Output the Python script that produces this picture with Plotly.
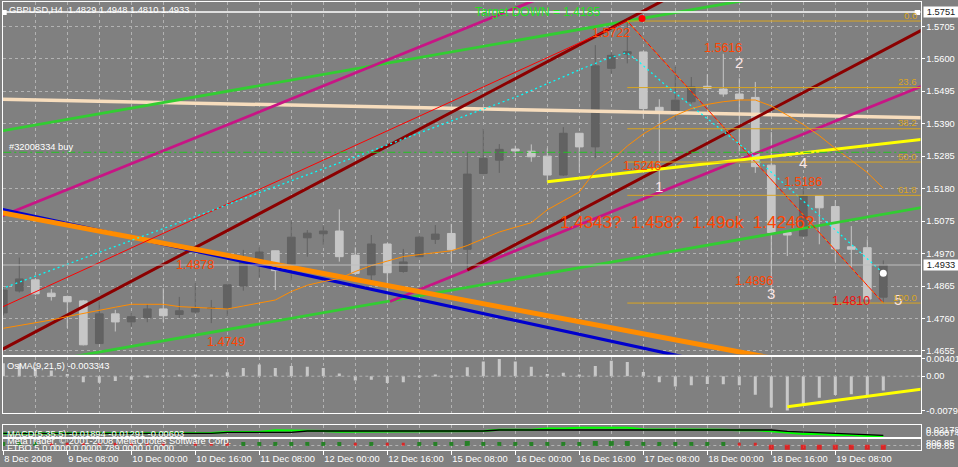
import plotly.graph_objects as go

W, H = 958, 467
FONT = "Liberation Sans, Arial, sans-serif"
BG = "#808080"
GRID = "#B2B2B2"

# ---------------- data ----------------
bars = list(range(56))
time_label_bars = [0, 4, 8, 12, 16, 20, 24, 28, 32, 36, 40, 44, 48, 52]
time_labels = ["8 Dec 2008", "9 Dec 08:00", "10 Dec 00:00", "10 Dec 16:00", "11 Dec 08:00",
               "12 Dec 00:00", "12 Dec 16:00", "15 Dec 08:00", "16 Dec 00:00", "16 Dec 16:00",
               "17 Dec 08:00", "18 Dec 00:00", "18 Dec 16:00", "19 Dec 08:00"]
price_ticks = [1.5705, 1.5600, 1.5495, 1.5390, 1.5285, 1.5180, 1.5075, 1.4970, 1.4865, 1.4760, 1.4655]

opens = [1.4778, 1.4849, 1.4885, 1.4842, 1.4831, 1.4817, 1.4679, 1.4775, 1.4749, 1.4763,
         1.4791, 1.4773, 1.4781, 1.4792, 1.4792, 1.4865, 1.4941, 1.4979, 1.4933, 1.5021,
         1.5034, 1.5043, 1.4965, 1.4901, 1.5001, 1.4912, 1.4960, 1.5016, 1.5035, 1.4984,
         1.5229, 1.5272, 1.5308, 1.5301, 1.5285, 1.5224, 1.5359, 1.5315, 1.5569, 1.5615,
         1.5622, 1.5443, 1.5432, 1.5461, 1.5511, 1.5502, 1.5486, 1.5475, 1.5256, 1.5038,
         1.5027, 1.5157, 1.5122, 1.4992, 1.4989, 1.4829]
highs = [1.4862, 1.4957, 1.4890, 1.4855, 1.4834, 1.4820, 1.4815, 1.4788, 1.4777, 1.4807,
         1.4858, 1.4830, 1.4874, 1.4820, 1.4869, 1.4982, 1.4990, 1.4980, 1.5079, 1.5046,
         1.5062, 1.5113, 1.4990, 1.5030, 1.5004, 1.4985, 1.5027, 1.5062, 1.5066, 1.5299,
         1.5375, 1.5324, 1.5319, 1.5323, 1.5310, 1.5379, 1.5360, 1.5644, 1.5622, 1.5722,
         1.5624, 1.5469, 1.5574, 1.5541, 1.5550, 1.5616, 1.5537, 1.5525, 1.5363, 1.5039,
         1.5186, 1.5159, 1.5143, 1.5059, 1.5016, 1.4948]
lows = [1.4770, 1.4844, 1.4836, 1.4818, 1.4729, 1.4673, 1.4678, 1.4718, 1.4732, 1.4748,
        1.4748, 1.4761, 1.4778, 1.4745, 1.4766, 1.4850, 1.4893, 1.4852, 1.4882, 1.4960,
        1.4998, 1.4944, 1.4901, 1.4869, 1.4815, 1.4908, 1.4959, 1.5001, 1.4943, 1.4917,
        1.5227, 1.5231, 1.5283, 1.5267, 1.5202, 1.5221, 1.5231, 1.5278, 1.5552, 1.5585,
        1.5407, 1.5165, 1.5402, 1.5455, 1.5498, 1.5477, 1.5300, 1.5231, 1.4846, 1.4962,
        1.5024, 1.5000, 1.4944, 1.4923, 1.4823, 1.4810]
closes = [1.4852, 1.4888, 1.4840, 1.4831, 1.4814, 1.4675, 1.4775, 1.4749, 1.4766, 1.4791,
          1.4769, 1.4785, 1.4793, 1.4794, 1.4869, 1.4944, 1.4975, 1.4915, 1.5023, 1.5036,
          1.5043, 1.4960, 1.4906, 1.5001, 1.4908, 1.4943, 1.5023, 1.5033, 1.4982, 1.5227,
          1.5278, 1.5307, 1.5302, 1.5283, 1.5224, 1.5359, 1.5315, 1.5577, 1.5611, 1.5623,
          1.5439, 1.5432, 1.5466, 1.5509, 1.5504, 1.5486, 1.5470, 1.5251, 1.5038, 1.5030,
          1.5156, 1.5118, 1.4985, 1.4984, 1.4823, 1.4933]

ma_orange = [1.47284, 1.47368, 1.47455, 1.47552, 1.47662, 1.47768, 1.47872, 1.47966, 1.48060, 1.48069,
             1.48060, 1.47985, 1.47966, 1.47927, 1.47908, 1.48005, 1.48095, 1.48199, 1.48473, 1.48677,
             1.48797, 1.48894, 1.49120, 1.49311, 1.49457, 1.49602, 1.49667, 1.49732, 1.49790, 1.49961,
             1.50181, 1.50398, 1.50550, 1.50698, 1.51115, 1.51390, 1.51691, 1.52370, 1.52710, 1.53179,
             1.53567, 1.53877, 1.54165, 1.54388, 1.54524, 1.54611, 1.54666, 1.54666, 1.54472, 1.54175,
             1.53874, 1.53515, 1.53098, 1.52719, 1.52318, 1.51811]

# trend lines: (bar index, price) anchor points
beige_x, beige_p = [-1, 58], [1.54699, 1.54087]
green_up_x, green_up_p = [-1, 58], [1.53584, 1.58947]
green_low_x, green_low_p = [-1, 58], [1.45879, 1.51242]
magenta_up_x, magenta_up_p = [-1, 58], [1.50721, 1.63084]
magenta_low_x, magenta_low_p = [24.17, 58], [1.48150, 1.55239]
darkred_up_x, darkred_up_p = [-1, 58], [1.46346, 1.62459]
darkred_low_x, darkred_low_p = [29, 58], [1.49170, 1.57090]
blue_x, blue_p = [-1, 58], [1.51235, 1.44625]
orange_x, orange_p = [-1, 58], [1.51108, 1.45347]
yellow_x, yellow_p = [34, 58], [1.52020, 1.53430]
zigzag_x, zigzag_p = [-1, 39, 55], [1.47750, 1.57220, 1.48100]
cyan_x = [-1, 32.29, 36.23, 37.81, 38.96, 39.67, 41.54, 46.46, 55]
cyan_p = [1.48388, 1.54812, 1.55691, 1.56015, 1.56196, 1.55927, 1.55077, 1.53049, 1.49065]
order_price = 1.52975
alert_price = 1.5751
bid_price = 1.4933
fib_high, fib_low, fib_start = 1.5722, 1.4810, 39
fib_levels = [0.0, 23.6, 38.2, 50.0, 61.8, 100.0]

red_labels = ["1.5722", "1.5616", "1.5246", "1.5186", "1.4896", "1.4878", "1.4749"]
red_label_x = [37.98, 44.95, 39.89, 49.95, 46.92, 11.95, 13.94]
red_label_p = [1.56849, 1.56348, 1.52532, 1.52024, 1.48813, 1.49321, 1.46841]
low_label, low_label_x, low_label_p = "1.4810", 52.95, 1.48166
guess_text, guess_x, guess_p = "1.4343?  1.458?  1.49ok  1.4246?", 34.67, 1.50705
wave_labels = ["1", "2", "3", "4", "5"]
wave_x = [40.95, 45.98, 47.95, 49.95, 55.92]
wave_p = [1.51869, 1.55879, 1.48425, 1.52645, 1.48199]
target_text, target_x, target_p = "Target DOWN = 1.4185", 29.36, 1.57496
fractal_x, fractal_p = [39.92], [1.57302]
dot_x, dot_p = [55], [1.49065]

osma = [0.0030, 0.0029, 0.0020, 0.0013, 0.0005, -0.0014, -0.0015, -0.0011, -0.0008, -0.0001,
        0.0001, 0.0003, 0.0002, 0.0003, 0.0009, 0.0019, 0.0027, 0.0019, 0.0024, 0.0022,
        0.0019, 0.0006, -0.0010, -0.0008, -0.0016, -0.0014, -0.0003, 0.0002, -0.0001, 0.0021,
        0.0034, 0.00401, 0.0034, 0.0022, 0.0005, 0.0008, 0.0003, 0.0024, 0.0036, 0.0033,
        0.0010, -0.0014, -0.0024, -0.0021, -0.0018, -0.0019, -0.0021, -0.0043, -0.0073, -0.00797,
        -0.0069, -0.0050, -0.0044, -0.0042, -0.0047, -0.003343]
osma_ticks = [0.00401, 0.0, -0.00797]
osma_ticktext = ["0.00401", "0.00", "-0.00797"]
osma_trend_x, osma_trend_v = [49, 57.6], [-0.00709, -0.00290]

macd_main = [-0.00633] * 14 + [-0.00242] * 5 + [0.00267] * 12 + [0.00659] * 3 + [0.00933] * 11 + \
            [0.00659] * 4 + [0.00150, -0.00124, -0.00398, -0.00790, -0.00790, -0.01299, -0.01417]
macd_signal = [-0.00712] * 12 + [-0.00516] * 2 + [-0.00124] * 3 + [0.00542] * 3 + [0.00267] + \
              [-0.00007] * 4 + [0.00072] * 3 + [0.00267] * 3 + [0.00777] * 3 + [0.01247] * 2 + \
              [0.01560] * 4 + [0.00933] * 5 + [0.00738] + [0.00542] * 2 + [0.00150] + [-0.00398] + \
              [-0.00908] * 2 + [-0.01299] * 2 + [-0.01691] * 2

signal_state = [1, 1, 1, -1, -1, -1, -1, -1, -1, -1, -1, 0, -1, -1, -1, 1, 1, 1, 1, 1,
                1, 1, -1, 1, -1, -1, 1, 1, 1, 2, 1, 1, 1, 1, 1, 1, 1, 2, 2, 2,
                1, 1, 1, 1, 1, 1, -1, -1, -2, -2, -2, -2, -2, -2, -2, -2]

# ---------------- layout helpers ----------------
X0, X1 = 2.5, 920.5
XR = [(X0 - 3.3) / 16, (X1 - 3.3) / 16]


def ydom(top, bot):
    return [1 - bot / H, 1 - top / H]


def pyp(y):
    return 1 - y / H


panels = {"main": (2, 354.5), "osma": (356.5, 412.7), "empty": (415.3, 423.3),
          "macd": (425.3, 437.3), "sig": (438.7, 450)}
yranges = {"main": [1.464362, 1.578353], "osma": [-0.008490, 0.004583], "empty": [0, 1],
           "macd": [-0.022, 0.025], "sig": [-4.5, 6.8]}
names = ["main", "osma", "empty", "macd", "sig"]

fig = go.Figure()

# candles
fig.add_trace(go.Candlestick(
    x=bars, open=opens, high=highs, low=lows, close=closes,
    increasing=dict(line=dict(color="#626262", width=1), fillcolor="#626262"),
    decreasing=dict(line=dict(color="#C6C6C6", width=1), fillcolor="#C6C6C6"),
    whiskerwidth=0, xaxis="x", yaxis="y", showlegend=False, hoverinfo="skip"))


def line(x, y, color, width, dash="solid", xa="x", ya="y"):
    fig.add_trace(go.Scatter(x=x, y=y, mode="lines", xaxis=xa, yaxis=ya,
                             line=dict(color=color, width=width, dash=dash),
                             showlegend=False, hoverinfo="skip"))


line(beige_x, beige_p, "#F7DDBD", 3.5)
line(green_up_x, green_up_p, "#32CD32", 2.8)
line(green_low_x, green_low_p, "#32CD32", 2.8)
line(magenta_up_x, magenta_up_p, "#C71585", 2.8)
line(magenta_low_x, magenta_low_p, "#C71585", 2.8)
line(darkred_up_x, darkred_up_p, "#8B0000", 3)
line(darkred_low_x, darkred_low_p, "#8B0000", 3)
line(blue_x, blue_p, "#0000CD", 3.2)
line(orange_x, orange_p, "#FF8C00", 5)
line(zigzag_x, zigzag_p, "#FF0000", 1)
line(zigzag_x[1:], zigzag_p[1:], "#FF8C00", 1, "3px,4px")
line(cyan_x, cyan_p, "#00FFFF", 1.3, "2px,3px")
line(yellow_x, yellow_p, "#FFFF00", 3)
line(bars, ma_orange, "#FF8C00", 1)
for lvl in fib_levels:
    fp = fib_high - (fib_high - fib_low) * lvl / 100
    line([fib_start, 58], [fp, fp], "#DAA520", 1)
line([-1, 58], [order_price, order_price], "#22C322", 1, "8px,3px,2px,3px")
line([-1, 58], [bid_price, bid_price], "#BEBEBE", 1)
line([-1, 58], [alert_price, alert_price], "#FFFFFF", 1.5)

fig.add_trace(go.Scatter(x=fractal_x, y=fractal_p, mode="markers", xaxis="x", yaxis="y",
                         marker=dict(color="#FF0000", size=7, symbol="circle"),
                         showlegend=False, hoverinfo="skip"))
fig.add_trace(go.Scatter(x=dot_x, y=dot_p, mode="markers", xaxis="x", yaxis="y",
                         marker=dict(color="#FFFFFF", size=7, symbol="circle"),
                         showlegend=False, hoverinfo="skip"))

# OsMA panel
fig.add_trace(go.Bar(x=bars, y=osma, width=0.19, marker=dict(color="#C8C8C8", line=dict(width=0)),
                     xaxis="x2", yaxis="y2", showlegend=False, hoverinfo="skip"))
line([-1, 58], [0, 0], GRID, 1, "3px,3px", "x2", "y2")
line(osma_trend_x, osma_trend_v, "#FFFF00", 3, "solid", "x2", "y2")

# MACD panel
line(bars, macd_signal, "#00FF00", 2, "solid", "x4", "y4")
line(bars, macd_main, "#000000", 1.3, "solid", "x4", "y4")

# signal panel
line([-1, 58], [0, 0], GRID, 1, "3px,3px", "x5", "y5")
sig_x = [b for b, s in zip(bars, signal_state) if s != 0]
sig_y = [{1: 1.5, 2: 2.0, -1: 1.2, -2: -1.8}[s] for s in signal_state if s != 0]
sig_c = ["#008000" if s > 0 else "#FF0000" for s in signal_state if s != 0]
sig_s = [{1: 4, 2: 5, -1: 3, -2: 5}[s] for s in signal_state if s != 0]
fig.add_trace(go.Scatter(x=sig_x, y=sig_y, mode="markers", xaxis="x5", yaxis="y5",
                         marker=dict(color=sig_c, size=sig_s, symbol="square", line=dict(width=0)),
                         showlegend=False, hoverinfo="skip"))

# ---------------- axes ----------------
minor_bars = [b for b in range(2, 58, 4)]
layout = dict(width=W, height=H, margin=dict(l=0, r=0, t=0, b=0, autoexpand=False),
              paper_bgcolor=BG, plot_bgcolor=BG, showlegend=False, boxgap=0.31,
              font=dict(family=FONT, color="white", size=9))
for k, nm in enumerate(names):
    sx = "" if k == 0 else str(k + 1)
    top, bot = panels[nm]
    showgrid = nm != "empty"
    xa = dict(domain=[X0 / W, X1 / W], range=XR, anchor="y" + sx, automargin=False,
              showline=True, mirror=True, linecolor="white", linewidth=1,
              tickmode="array", tickvals=time_label_bars, showticklabels=False, ticks="",
              showgrid=showgrid, gridcolor=GRID, griddash="3px,3px", gridwidth=1,
              minor=dict(tickmode="array", tickvals=minor_bars, showgrid=showgrid,
                         gridcolor=GRID, griddash="3px,3px", gridwidth=1, ticks=""),
              zeroline=False, fixedrange=True, rangeslider=dict(visible=False))
    if nm == "sig":
        xa.update(showticklabels=True, ticktext=time_labels, ticks="outside", ticklen=4,
                  tickcolor="white", ticklabelposition="outside right", tickangle=0,
                  tickfont=dict(family=FONT, color="white", size=9.3))
    ya = dict(domain=ydom(top, bot), range=yranges[nm], anchor="x" + sx, side="right",
              automargin=False, showline=True, mirror=True, linecolor="white", linewidth=1,
              showgrid=False, zeroline=False, showticklabels=False, ticks="", fixedrange=True)
    if nm == "main":
        ya.update(tickmode="array", tickvals=price_ticks, ticktext=[f"{v:.4f}" for v in price_ticks],
                  showticklabels=True, ticks="outside", ticklen=3, tickcolor="white",
                  showgrid=True, gridcolor=GRID, griddash="3px,3px", gridwidth=1,
                  tickfont=dict(family=FONT, color="white", size=9.3))
    if nm == "osma":
        ya.update(tickmode="array", tickvals=osma_ticks, ticktext=osma_ticktext,
                  showticklabels=True, ticks="outside", ticklen=3, tickcolor="white",
                  tickfont=dict(family=FONT, color="white", size=9.3))
    layout["xaxis" + sx] = xa
    layout["yaxis" + sx] = ya
fig.update_layout(**layout)

# ---------------- annotations ----------------
ann = []
for t, x, p in zip(red_labels, red_label_x, red_label_p):
    ann.append(dict(text=t, x=x, y=p, xref="x", yref="y", showarrow=False,
                    font=dict(family=FONT, size=12.5, color="#FF4500")))
ann.append(dict(text=low_label, x=low_label_x, y=low_label_p, xref="x", yref="y", showarrow=False,
                font=dict(family=FONT, size=12.5, color="#F01010")))
ann.append(dict(text=guess_text.replace(" ", "&nbsp;"), x=guess_x, y=guess_p, xref="x", yref="y",
                showarrow=False, xanchor="left",
                font=dict(family=FONT, size=17, color="#FF4500")))
for t, x, p in zip(wave_labels, wave_x, wave_p):
    ann.append(dict(text=t, x=x, y=p, xref="x", yref="y", showarrow=False,
                    font=dict(family=FONT, size=15, color="#FBE6E6")))
ann.append(dict(text=target_text, x=target_x, y=target_p, xref="x", yref="y", showarrow=False,
                xanchor="left", font=dict(family=FONT, size=12, color="#22E022")))
for lvl in fib_levels:
    fp = fib_high - (fib_high - fib_low) * lvl / 100
    ann.append(dict(text=f"{lvl:.1f}", x=(918.5 - 3.3) / 16, y=fp, xref="x", yref="y",
                    showarrow=False, xanchor="right", yanchor="middle", yshift=6,
                    font=dict(family=FONT, size=9.5, color="#DAA520")))
# price boxes on right axis
for v in [alert_price, bid_price]:
    ann.append(dict(text=f"{v:.4f}", x=923 / W, y=v, xref="paper", yref="y", showarrow=False,
                    xanchor="left", bgcolor="white", borderpad=0, width=34,
                    font=dict(family=FONT, size=9.3, color="#202020")))
# indicator / header texts
texts = [("GBPUSD,H4  1.4829 1.4948 1.4810 1.4933", 7.5, 10.5, 9.3),
         ("#32008334 buy", 7.5, 146.7, 9.3),
         ("OsMA(9,21,5) -0.003343", 6, 366.3, 9.3),
         ("MACD(5,35,5) -0.01894 -0.01291 -0.00603", 6, 434.3, 9.3),
         ("MetaTrader, © 2001-2008 MetaQuotes Software Corp.", 6, 441.2, 9.3),
         ("FTBO 5 0.0000 0.0000 789.0000 0.0000", 6, 448.3, 9.3)]
for t, x, y, s in texts:
    ann.append(dict(text=t.replace(" ", "&nbsp;"), x=x / W, y=pyp(y), xref="paper", yref="paper",
                    showarrow=False, xanchor="left", yanchor="middle", borderpad=0,
                    font=dict(family=FONT, size=s, color="white")))
side_texts = [("0.02178", 429.5), ("0.00074", 433.2), ("806.85", 442.7), ("809.85", 445.6)]
for t, y in side_texts:
    ann.append(dict(text=t, x=925 / W, y=pyp(y), xref="paper", yref="paper", showarrow=False,
                    xanchor="left", yanchor="middle", borderpad=0,
                    font=dict(family=FONT, size=9.3, color="white")))
fig.update_layout(annotations=ann)

# small white squares (header icon and alert-line marker)
for (x0, y0, x1, y1) in [(2.7, 10, 6.7, 15), (914.7, 10, 920, 15)]:
    fig.add_shape(type="rect", xref="paper", yref="paper", x0=x0 / W, x1=x1 / W,
                  y0=pyp(y1), y1=pyp(y0), fillcolor="white", line=dict(width=0))

page_fix = ("document.documentElement.style.margin='0';document.body.style.margin='0';"
            "document.body.style.padding='0';document.body.style.background='#808080';")
fig.write_html("out.html", post_script=page_fix, config={"displayModeBar": False})
